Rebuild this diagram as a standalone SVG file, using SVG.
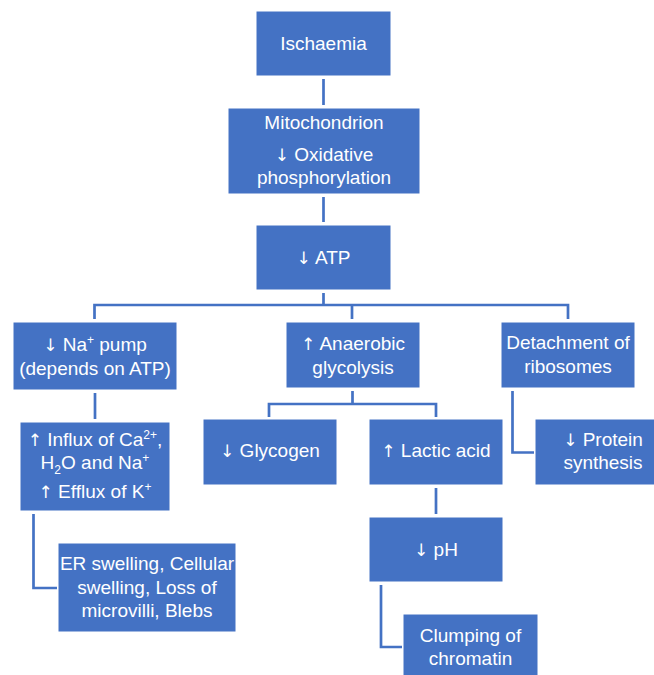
<svg xmlns="http://www.w3.org/2000/svg" width="654" height="675" viewBox="0 0 654 675">
<style>
.box{fill:#4472C4;stroke:#ffffff;stroke-width:1}
.t{font-family:"Liberation Sans",Arial,sans-serif;font-size:19px;fill:#ffffff;text-anchor:middle}
.a{font-family:"DejaVu Sans","Liberation Sans",sans-serif;font-size:17px}
.sup{font-size:12px}
.con{fill:none;stroke:#4472C4;stroke-width:2.7}
</style>
<rect width="654" height="675" fill="#ffffff"/>
<g id="connectors">
<path class="con" d="M323.5 79 V105"/>
<path class="con" d="M323.5 197 V222"/>
<path class="con" d="M323.5 293 V305 M94.5 319 V305 H568 V319 M352 305 V319"/>
<path class="con" d="M95 393 V419"/>
<path class="con" d="M352.5 391 V404 M269 417 V404 H436 V417"/>
<path class="con" d="M512.5 391 V452.5 H534"/>
<path class="con" d="M33.5 514 V588 H57"/>
<path class="con" d="M436 488 V514"/>
<path class="con" d="M381 585 V647 H402"/>
</g>
<g id="ischaemia"><rect class="box" x="256" y="11" width="135" height="65"/><text class="t" x="323.5" y="50">Ischaemia</text></g>
<g id="mitochondrion"><rect class="box" x="228" y="108" width="192" height="86"/>
<text class="t" x="324" y="129">Mitochondrion</text>
<text class="t" x="324" y="161"><tspan class="a">↓</tspan> Oxidative</text>
<text class="t" x="324" y="184">phosphorylation</text></g>
<g id="atp"><rect class="box" x="256" y="225" width="135" height="65"/><text class="t" x="323.5" y="264"><tspan class="a">↓</tspan> ATP</text></g>
<g id="na-pump"><rect class="box" x="13" y="322" width="164" height="68"/>
<text class="t" x="95" y="351"><tspan class="a">↓</tspan> Na<tspan class="sup" dy="-7">+</tspan><tspan dy="7"> pump</tspan></text>
<text class="t" x="95" y="375">(depends on ATP)</text></g>
<g id="anaerobic"><rect class="box" x="286" y="322" width="134" height="66"/>
<text class="t" x="353" y="350"><tspan class="a">↑</tspan> Anaerobic</text>
<text class="t" x="353" y="374">glycolysis</text></g>
<g id="detachment"><rect class="box" x="501" y="322" width="134" height="66"/>
<text class="t" x="568" y="349">Detachment of</text>
<text class="t" x="568" y="373">ribosomes</text></g>
<g id="influx"><rect class="box" x="20" y="422" width="150" height="89"/>
<text class="t" x="95" y="446"><tspan class="a">↑</tspan> Influx of Ca<tspan class="sup" dy="-7">2+</tspan><tspan dy="7">,</tspan></text>
<text class="t" x="95" y="469">H<tspan class="sup" dy="5">2</tspan><tspan dy="-5">O and Na</tspan><tspan class="sup" dy="-7">+</tspan></text>
<text class="t" x="95" y="498"><tspan class="a">↑</tspan> Efflux of K<tspan class="sup" dy="-7">+</tspan></text></g>
<g id="glycogen"><rect class="box" x="203" y="419" width="134" height="66"/><text class="t" x="270" y="457"><tspan class="a">↓</tspan> Glycogen</text></g>
<g id="lactic-acid"><rect class="box" x="369" y="419" width="134" height="66"/><text class="t" x="436" y="457"><tspan class="a">↑</tspan> Lactic acid</text></g>
<g id="protein"><rect class="box" x="535" y="419" width="136" height="66"/>
<text class="t" x="603" y="446"><tspan class="a">↓</tspan> Protein</text>
<text class="t" x="603" y="469">synthesis</text></g>
<g id="ph"><rect class="box" x="369" y="517" width="134" height="65"/><text class="t" x="436" y="556"><tspan class="a">↓</tspan> pH</text></g>
<g id="er-swelling"><rect class="box" x="58" y="543" width="178" height="89"/>
<text class="t" x="147" y="570">ER swelling, Cellular</text>
<text class="t" x="147" y="594">swelling, Loss of</text>
<text class="t" x="147" y="617">microvilli, Blebs</text></g>
<g id="clumping"><rect class="box" x="403" y="614" width="135" height="66"/>
<text class="t" x="470.5" y="642">Clumping of</text>
<text class="t" x="470.5" y="665">chromatin</text></g>
</svg>
